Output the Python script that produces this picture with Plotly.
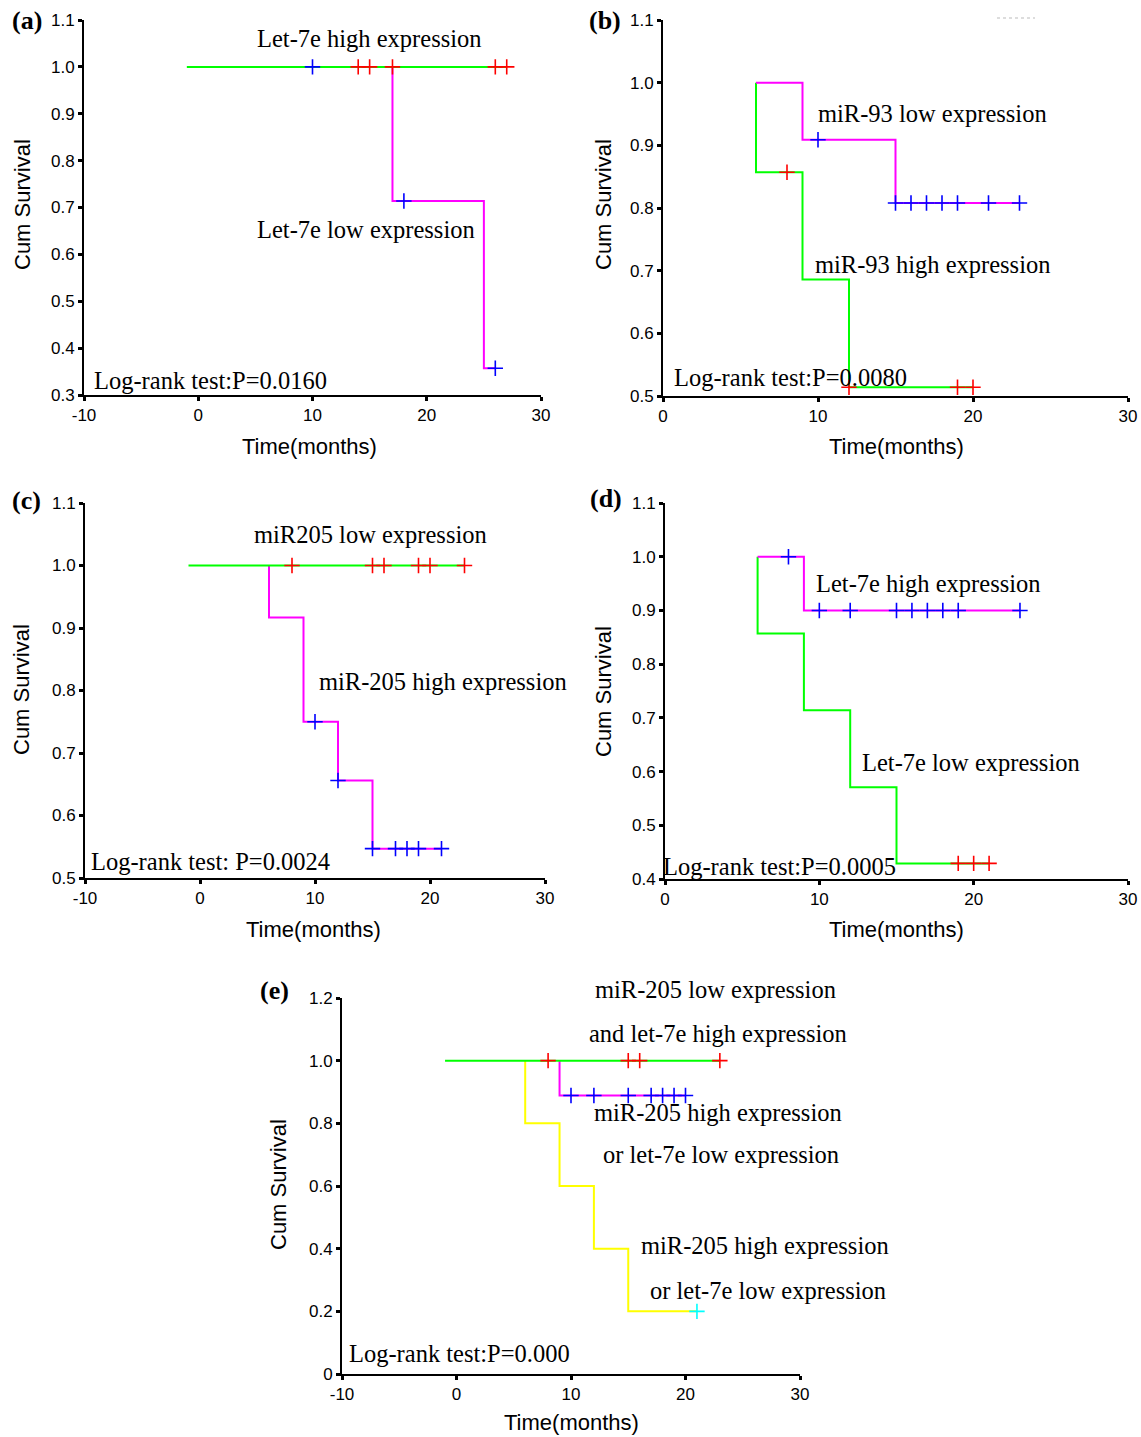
import plotly.graph_objects as go

W, H = 1141, 1437
OFF = 0  # body margin is removed below, so reference pixels map 1:1

# ---------------- data ----------------
# Panel (a)
a_high_x = [-1, 27]
a_high_y = [1.0, 1.0]
a_high_cx = [14, 15, 17, 26, 27]
a_high_cy = [1.0, 1.0, 1.0, 1.0, 1.0]
a_low_x = [17, 17, 25, 26]
a_low_y = [1.0, 0.714, 0.357, 0.357]
a_low_cx = [10, 18, 26]
a_low_cy = [1.0, 0.714, 0.357]

# Panel (b)
b_low_x = [6, 9, 15, 23]
b_low_y = [1.0, 0.909, 0.808, 0.808]
b_low_cx = [10, 15, 16, 17, 18, 19, 21, 23]
b_low_cy = [0.909, 0.808, 0.808, 0.808, 0.808, 0.808, 0.808, 0.808]
b_high_x = [6, 6, 9, 12, 20]
b_high_y = [1.0, 0.857, 0.686, 0.514, 0.514]
b_high_cx = [8, 12, 19, 20]
b_high_cy = [0.857, 0.514, 0.514, 0.514]

# Panel (c)
c_low_x = [-1, 23]
c_low_y = [1.0, 1.0]
c_low_cx = [8, 15, 16, 19, 20, 23]
c_low_cy = [1.0, 1.0, 1.0, 1.0, 1.0, 1.0]
c_high_x = [6, 6, 9, 12, 15, 21]
c_high_y = [1.0, 0.917, 0.75, 0.656, 0.547, 0.547]
c_high_cx = [10, 12, 15, 17, 18, 19, 21]
c_high_cy = [0.75, 0.656, 0.547, 0.547, 0.547, 0.547, 0.547]

# Panel (d)
d_high_x = [6, 9, 23]
d_high_y = [1.0, 0.9, 0.9]
d_high_cx = [8, 10, 12, 15, 16, 17, 18, 19, 23]
d_high_cy = [1.0, 0.9, 0.9, 0.9, 0.9, 0.9, 0.9, 0.9, 0.9]
d_low_x = [6, 6, 9, 12, 15, 21]
d_low_y = [1.0, 0.857, 0.714, 0.571, 0.429, 0.429]
d_low_cx = [19, 20, 21]
d_low_cy = [0.429, 0.429, 0.429]

# Panel (e)
e_g1_x = [-1, 23]
e_g1_y = [1.0, 1.0]
e_g1_cx = [8, 15, 16, 23]
e_g1_cy = [1.0, 1.0, 1.0, 1.0]
e_g2_x = [9, 9, 20]
e_g2_y = [1.0, 0.889, 0.889]
e_g2_cx = [10, 12, 15, 17, 18, 19, 20]
e_g2_cy = [0.889, 0.889, 0.889, 0.889, 0.889, 0.889, 0.889]
e_g3_x = [6, 6, 9, 12, 15, 21]
e_g3_y = [1.0, 0.8, 0.6, 0.4, 0.2, 0.2]
e_g3_cx = [21]
e_g3_cy = [0.2]

# tick labels
xt_neg = [-10, 0, 10, 20, 30]
xt_pos = [0, 10, 20, 30]
yt_a = [0.3, 0.4, 0.5, 0.6, 0.7, 0.8, 0.9, 1.0, 1.1]
yt_b = [0.5, 0.6, 0.7, 0.8, 0.9, 1.0, 1.1]
yt_c = [0.5, 0.6, 0.7, 0.8, 0.9, 1.0, 1.1]
yt_d = [0.4, 0.5, 0.6, 0.7, 0.8, 0.9, 1.0, 1.1]
yt_e = [0, 0.2, 0.4, 0.6, 0.8, 1.0, 1.2]
yt_e_text = ["0", "0.2", "0.4", "0.6", "0.8", "1.0", "1.2"]

GREEN = "#00FF00"
MAGENTA = "#FF00FF"
YELLOW = "#FFFF00"
RED = "#FF0000"
BLUE = "#0000FF"
CYAN = "#00FFFF"

fig = go.Figure()


def curve(x, y, color, ax):
    fig.add_trace(go.Scatter(x=x, y=y, mode="lines", line=dict(color=color, width=2, shape="hv"),
                             xaxis="x" + ax, yaxis="y" + ax, showlegend=False, hoverinfo="skip"))


def cens(x, y, color, ax):
    fig.add_trace(go.Scatter(x=x, y=y, mode="markers",
                             marker=dict(symbol="cross-thin", size=11, line=dict(color=color, width=1.6)),
                             xaxis="x" + ax, yaxis="y" + ax, showlegend=False, hoverinfo="skip"))


# (a)
curve(a_low_x, a_low_y, MAGENTA, "")
curve(a_high_x, a_high_y, GREEN, "")
cens(a_low_cx, a_low_cy, BLUE, "")
cens(a_high_cx, a_high_cy, RED, "")
# (b)
curve(b_high_x, b_high_y, GREEN, "2")
curve(b_low_x, b_low_y, MAGENTA, "2")
cens(b_low_cx, b_low_cy, BLUE, "2")
cens(b_high_cx, b_high_cy, RED, "2")
# (c)
curve(c_high_x, c_high_y, MAGENTA, "3")
curve(c_low_x, c_low_y, GREEN, "3")
cens(c_high_cx, c_high_cy, BLUE, "3")
cens(c_low_cx, c_low_cy, RED, "3")
# (d)
curve(d_low_x, d_low_y, GREEN, "4")
curve(d_high_x, d_high_y, MAGENTA, "4")
cens(d_high_cx, d_high_cy, BLUE, "4")
cens(d_low_cx, d_low_cy, RED, "4")
# (e)
curve(e_g3_x, e_g3_y, YELLOW, "5")
curve(e_g2_x, e_g2_y, MAGENTA, "5")
curve(e_g1_x, e_g1_y, GREEN, "5")
cens(e_g2_cx, e_g2_cy, BLUE, "5")
cens(e_g1_cx, e_g1_cy, RED, "5")
cens(e_g3_cx, e_g3_cy, CYAN, "5")

TICKFONT = dict(family="Liberation Sans, Arial, sans-serif", size=17, color="black")


def px_dom_x(p0, p1):
    return [(p0 - OFF) / W, (p1 - OFF) / W]


def px_dom_y(top, bottom):
    return [1 - (bottom - OFF) / H, 1 - (top - OFF) / H]


def xax(dom, rng, tv, anchor):
    return dict(domain=dom, range=rng, tickvals=tv, ticktext=[str(v) for v in tv], anchor=anchor,
                showline=True, linecolor="black", linewidth=2, ticks="outside", ticklen=4, tickwidth=3,
                tickcolor="black", showgrid=False, zeroline=False, tickfont=TICKFONT, fixedrange=True,
                automargin=False)


def yax(dom, rng, tv, tt, anchor):
    return dict(domain=dom, range=rng, tickvals=tv, ticktext=tt, anchor=anchor,
                showline=True, linecolor="black", linewidth=2, ticks="outside", ticklen=4, tickwidth=3,
                tickcolor="black", showgrid=False, zeroline=False, tickfont=TICKFONT, fixedrange=True,
                automargin=False)


fmt = lambda vals: ["%.1f" % v for v in vals]

layout = dict(
    template="none",
    width=W, height=H, autosize=False,
    margin=dict(l=0, r=0, t=0, b=0, pad=0, autoexpand=False),
    paper_bgcolor="white", plot_bgcolor="white", showlegend=False,
    xaxis=xax(px_dom_x(84, 541), [-10, 30], xt_neg, "y"),
    yaxis=yax(px_dom_y(20, 395), [0.3, 1.1], yt_a, fmt(yt_a), "x"),
    xaxis2=xax(px_dom_x(663, 1128), [0, 30], xt_pos, "y2"),
    yaxis2=yax(px_dom_y(20, 396), [0.5, 1.1], yt_b, fmt(yt_b), "x2"),
    xaxis3=xax(px_dom_x(85, 545), [-10, 30], xt_neg, "y3"),
    yaxis3=yax(px_dom_y(503, 878), [0.5, 1.1], yt_c, fmt(yt_c), "x3"),
    xaxis4=xax(px_dom_x(665, 1128), [0, 30], xt_pos, "y4"),
    yaxis4=yax(px_dom_y(503, 879), [0.4, 1.1], yt_d, fmt(yt_d), "x4"),
    xaxis5=xax(px_dom_x(342, 800), [-10, 30], xt_neg, "y5"),
    yaxis5=yax(px_dom_y(998, 1374), [0, 1.2], yt_e, yt_e_text, "x5"),
)
fig.update_layout(**layout)

SERIF = "Liberation Serif, Times New Roman, serif"
SANS = "Liberation Sans, Arial, sans-serif"
ann = []
TXT_SIZE = 24.5


def txt(text, x, y, ax, xanchor="center", size=TXT_SIZE):
    # x, y in data units of panel ax; converted to the axis-domain fraction so
    # labels above the y-range stay visible
    xr = layout["xaxis" + ax]["range"]
    yr = layout["yaxis" + ax]["range"]
    fx = (x - xr[0]) / (xr[1] - xr[0])
    fy = (y - yr[0]) / (yr[1] - yr[0])
    ann.append(dict(text=text, x=fx, y=fy, xref="x" + ax + " domain", yref="y" + ax + " domain",
                    xanchor=xanchor, yanchor="middle",
                    showarrow=False, font=dict(family=SERIF, size=size, color="black")))


# panel texts
txt("Let-7e high expression", 15.0, 1.06, "")
txt("Let-7e low expression", 14.7, 0.653, "")
txt("Log-rank test:P=0.0160", -9.3, 0.330, "", "left")

txt("miR-93 low expression", 17.4, 0.951, "2")
txt("miR-93 high expression", 17.4, 0.710, "2")
txt("Log-rank test:P=0.0080", 0.58, 0.529, "2", "left")

txt("miR205 low expression", 14.8, 1.05, "3")
txt("miR-205 high expression", 21.1, 0.815, "3")
txt("Log-rank test: P=0.0024", -9.65, 0.526, "3", "left")

txt("Let-7e high expression", 17.1, 0.951, "4")
txt("Let-7e low expression", 19.8, 0.617, "4")
txt("Log-rank test:P=0.0005", -0.26, 0.424, "4", "left")

txt("miR-205 low expression", 22.6, 1.226, "5")
txt("and let-7e high expression", 22.8, 1.088, "5")
txt("miR-205 high expression", 22.8, 0.836, "5")
txt("or let-7e low expression", 23.1, 0.699, "5")
txt("miR-205 high expression", 26.9, 0.409, "5")
txt("or let-7e low expression", 27.2, 0.268, "5")
txt("Log-rank test:P=0.000", -9.6, 0.067, "5", "left")


def paper_txt(text, px, py, size, family, bold=False, angle=0, xanchor="center"):
    t = "<b>%s</b>" % text if bold else text
    ann.append(dict(text=t, x=(px - OFF) / W, y=1 - (py - OFF) / H, xref="paper", yref="paper",
                    xanchor=xanchor, yanchor="middle", showarrow=False, textangle=angle,
                    font=dict(family=family, size=size, color="black")))


# panel labels
paper_txt("(a)", 10, 21, 26, SERIF, True, xanchor="left")
paper_txt("(b)", 587, 21, 26, SERIF, True, xanchor="left")
paper_txt("(c)", 10, 500, 26, SERIF, True, xanchor="left")
paper_txt("(d)", 588, 499, 26, SERIF, True, xanchor="left")
paper_txt("(e)", 258, 990, 26, SERIF, True, xanchor="left")

# axis titles
paper_txt("Cum Survival", 22, 205, 22, SANS, angle=-90)
paper_txt("Cum Survival", 603, 205, 22, SANS, angle=-90)
paper_txt("Cum Survival", 22, 690, 22, SANS, angle=-90)
paper_txt("Cum Survival", 603, 692, 22, SANS, angle=-90)
paper_txt("Cum Survival", 278, 1185, 22, SANS, angle=-90)
paper_txt("Time(months)", 309, 447, 22, SANS)
paper_txt("Time(months)", 897, 447, 22, SANS)
paper_txt("Time(months)", 313, 929, 22, SANS)
paper_txt("Time(months)", 897, 929, 22, SANS)
paper_txt("Time(months)", 571, 1422, 22, SANS)

fig.update_layout(annotations=ann)

# faint dotted artifact at top right of panel (b)
fig.add_shape(type="line", xref="paper", yref="paper",
              x0=(997 - OFF) / W, x1=(1035 - OFF) / W, y0=1 - (18 - OFF) / H, y1=1 - (18 - OFF) / H,
              line=dict(color="#BBBBBB", width=1, dash="dot"))

fig.write_html(
    "out.html",
    config={"displayModeBar": False, "staticPlot": True},
    post_script="document.body.style.margin='0';document.body.style.overflow='hidden';",
)
